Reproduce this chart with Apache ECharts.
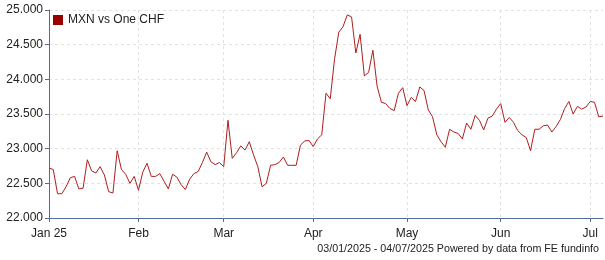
<!DOCTYPE html>
<html>
<head>
<meta charset="utf-8">
<script src="https://cdn.jsdelivr.net/npm/echarts@6/dist/echarts.min.js"></script>
<style>
html,body{margin:0;padding:0;background:#fff;}
#chart{width:605px;height:260px;}
</style>
</head>
<body>
<div id="chart"></div>
<script>
// Trading days (weekdays) from 03/01/2025 to 04/07/2025
const startDate = '2025-01-03';
const endDate = '2025-07-04';
const dates = [];
(function(){
  let d = new Date(startDate + 'T00:00:00Z');
  const e = new Date(endDate + 'T00:00:00Z');
  while (d <= e) {
    const wd = d.getUTCDay();
    if (wd !== 0 && wd !== 6) dates.push(d.toISOString().slice(0,10));
    d = new Date(d.getTime() + 86400000);
  }
})();

const seriesName = 'MXN vs One CHF';
const mxnValues = [
  22.72,22.70,22.35,22.35,22.45,22.58,22.60,22.42,22.43,22.84,
  22.68,22.65,22.74,22.62,22.38,22.36,22.97,22.70,22.63,22.50,
  22.60,22.40,22.66,22.79,22.60,22.60,22.64,22.53,22.42,22.63,
  22.59,22.48,22.41,22.56,22.64,22.67,22.80,22.95,22.81,22.77,
  22.80,22.74,23.41,22.86,22.94,23.04,22.98,23.10,22.91,22.74,
  22.45,22.50,22.76,22.77,22.80,22.88,22.76,22.76,22.76,23.05,
  23.11,23.12,23.03,23.14,23.20,23.80,23.72,24.29,24.68,24.76,
  24.93,24.90,24.38,24.65,24.05,24.10,24.42,23.90,23.67,23.65,
  23.58,23.55,23.80,23.88,23.62,23.74,23.68,23.89,23.84,23.56,
  23.46,23.20,23.10,23.02,23.28,23.24,23.22,23.14,23.37,23.28,
  23.48,23.41,23.27,23.44,23.47,23.57,23.65,23.38,23.45,23.38,
  23.26,23.20,23.16,22.97,23.28,23.28,23.33,23.34,23.24,23.32,
  23.42,23.58,23.68,23.50,23.61,23.57,23.60,23.68,23.67,23.46,
  23.47
];

const tickDates = ['2025-01-03','2025-02-03','2025-03-03','2025-04-01','2025-05-01','2025-06-02','2025-07-01'];
const tickLabels = ['Jan 25','Feb','Mar','Apr','May','Jun','Jul'];
const footerText = '03/01/2025 - 04/07/2025 Powered by data from FE fundinfo';

const tickIdx = tickDates.map(t => dates.indexOf(t));
const isTick = (i) => tickIdx.indexOf(i) >= 0;

const chart = echarts.init(document.getElementById('chart'), null, {renderer:'canvas'});
const FONT = 'Liberation Sans';
chart.setOption({
  animation: false,
  backgroundColor: '#ffffff',
  textStyle: { fontFamily: FONT },
  grid: { left: 49, right: 2, top: 10, bottom: 42, containLabel: false },
  legend: {
    show: true,
    left: 48, top: 9,
    itemWidth: 10, itemHeight: 10, itemGap: 6,
    icon: 'rect',
    textStyle: { fontFamily: FONT, fontSize: 12, color: '#222' },
    data: [{ name: seriesName, itemStyle: { color: '#990000' } }]
  },
  title: {
    text: footerText,
    right: 1, top: 239,
    textStyle: { fontFamily: FONT, fontSize: 10.7, fontWeight: 'normal', color: '#222' }
  },
  xAxis: {
    type: 'category',
    data: dates,
    boundaryGap: false,
    axisLine: { show: true, lineStyle: { color: '#4f6f96', width: 1 } },
    axisTick: { show: true, length: 4, interval: (i) => isTick(i), lineStyle: { color: '#4f6f96' } },
    axisLabel: {
      show: true, interval: (i) => isTick(i),
      formatter: (v, i) => { const k = tickIdx.indexOf(i); return k >= 0 ? tickLabels[k] : ''; },
      fontFamily: FONT, fontSize: 12, color: '#222', margin: 10
    },
    splitLine: { show: true, interval: (i) => isTick(i) && i !== 0, lineStyle: { color: '#e2e2e2', type: [3,3], width: 1 } }
  },
  yAxis: {
    type: 'value',
    min: 22, max: 25, interval: 0.5,
    axisLine: { show: true, lineStyle: { color: '#4f6f96', width: 1 } },
    axisTick: { show: true, length: 4, lineStyle: { color: '#4f6f96' } },
    axisLabel: {
      formatter: (v) => v.toFixed(3),
      fontFamily: FONT, fontSize: 12, color: '#222', margin: 6
    },
    splitLine: { show: true, lineStyle: { color: '#e2e2e2', type: [3,3], width: 1 } }
  },
  series: [{
    name: seriesName,
    type: 'line',
    data: mxnValues,
    showSymbol: false,
    symbol: 'none',
    lineStyle: { color: '#b01e1e', width: 1 },
    itemStyle: { color: '#990000' },
    emphasis: { disabled: true }
  }]
});
</script>
</body>
</html>
